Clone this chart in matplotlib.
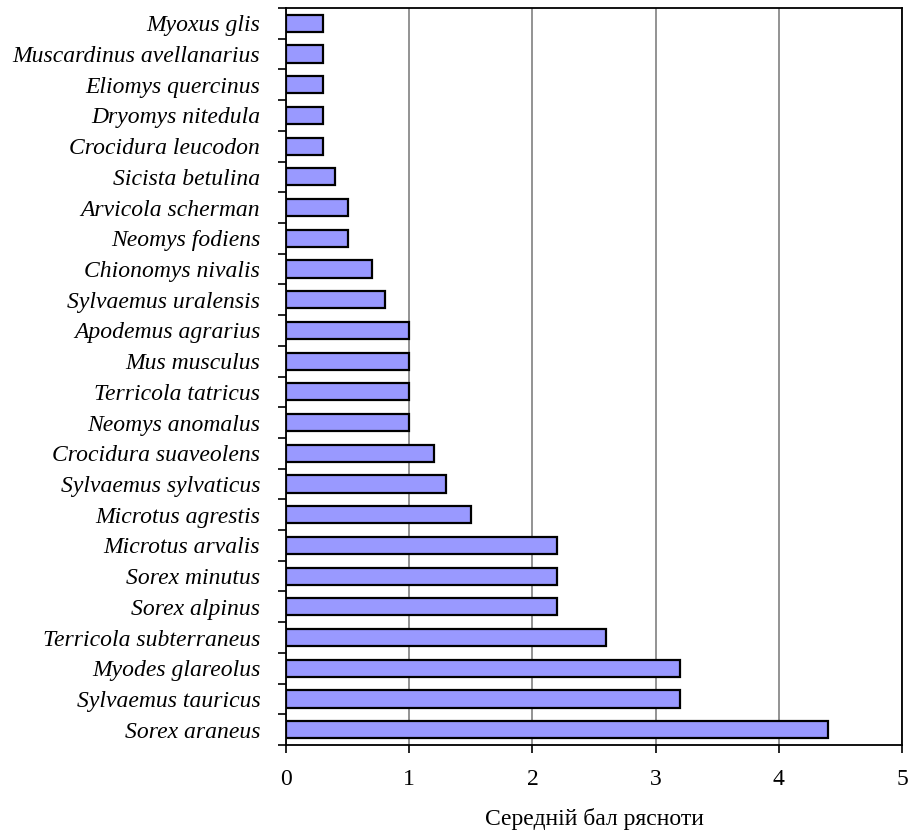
import numpy as np
import matplotlib.pyplot as plt
from matplotlib.ticker import FixedLocator, NullFormatter

# species listed top to bottom as in the chart
species = [
    "Myoxus glis", "Muscardinus avellanarius", "Eliomys quercinus",
    "Dryomys nitedula", "Crocidura leucodon", "Sicista betulina",
    "Arvicola scherman", "Neomys fodiens", "Chionomys nivalis",
    "Sylvaemus uralensis", "Apodemus agrarius", "Mus musculus",
    "Terricola tatricus", "Neomys anomalus", "Crocidura suaveolens",
    "Sylvaemus sylvaticus", "Microtus agrestis", "Microtus arvalis",
    "Sorex minutus", "Sorex alpinus", "Terricola subterraneus",
    "Myodes glareolus", "Sylvaemus tauricus", "Sorex araneus",
]
scores = [
    0.3, 0.3, 0.3, 0.3, 0.3, 0.4, 0.5, 0.5, 0.7, 0.8, 1.0, 1.0,
    1.0, 1.0, 1.2, 1.3, 1.5, 2.2, 2.2, 2.2, 2.6, 3.2, 3.2, 4.4,
]
xticks = [0, 1, 2, 3, 4, 5]
xlabel = "Середній бал рясноти"

plt.rcParams["font.family"] = ["Liberation Serif", "DejaVu Serif"]

fig = plt.figure(figsize=(9.08, 8.3), dpi=100)
ax = fig.add_axes([286 / 908, 1 - 745 / 830, 616 / 908, 737 / 830])

y = np.arange(len(species))
ax.barh(y, scores, height=0.56, color="#9999FF", edgecolor="black", linewidth=1.6, zorder=3)

ax.set_xlim(0, 5)
ax.set_ylim(len(species) - 0.5, -0.5)
ax.set_xticks(xticks)
ax.set_xticklabels([str(t) for t in xticks], fontsize=17)
ax.xaxis.grid(True, color="#808080", linewidth=1.2, zorder=0)

ax.set_yticks(y)
ax.set_yticklabels(species, fontsize=17, style="italic")
ax.tick_params(axis="y", which="major", length=0, pad=18.5)
ax.yaxis.set_minor_locator(FixedLocator(np.arange(len(species) + 1) - 0.5))
ax.yaxis.set_minor_formatter(NullFormatter())
ax.tick_params(axis="y", which="minor", length=6, width=1.2, direction="out")
ax.tick_params(axis="x", length=6, width=1.2, direction="out", pad=11)

for s in ax.spines.values():
    s.set_linewidth(1.3)
    s.set_color("black")

ax.set_xlabel(xlabel, fontsize=17, labelpad=13)

fig.savefig("out.png", dpi=100)
